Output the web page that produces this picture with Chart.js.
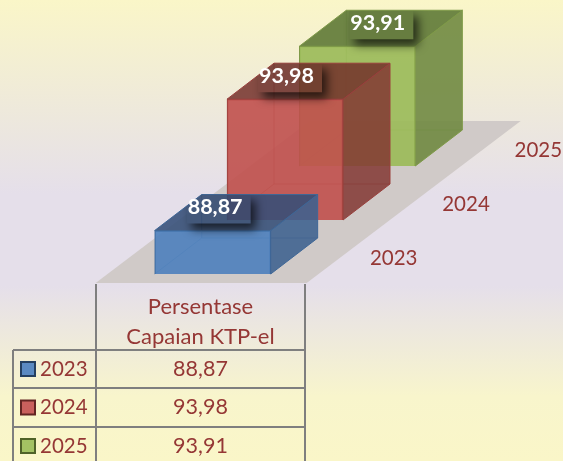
<!DOCTYPE html>
<html><head><meta charset="utf-8">
<style>html,body{margin:0;padding:0;background:#e5dfea}canvas{display:block}</style>
<script src="https://cdn.jsdelivr.net/npm/chart.js@4"></script>
</head><body><canvas id="c" width="563" height="461"></canvas>
<script>
const years = ['2023', '2024', '2025'];
const values = [88.87, 93.98, 93.91];
const seriesName = ['Persentase', 'Capaian KTP-el'];
const axisMin = 86, axisMax = 104.1;
const frontColors = ['rgba(79,129,189,.92)', 'rgba(192,80,77,.9)', 'rgba(155,187,89,.92)'];
const sideColors = ['rgba(60,97,142,.88)', 'rgba(131,55,50,.85)', 'rgba(112,138,65,.9)'];
const topColors = ['rgba(52,78,120,.88)', 'rgba(115,48,42,.85)', 'rgba(98,124,58,.92)'];
const edgeColors = ['#3f6797', '#99403d', '#7f9a48'];
const keyBorders = ['#254061', '#632523', '#4f6228'];
const keyFills = ['#5b8ac2', '#c9605d', '#a3c263'];

const fmt = v => v.toFixed(2).replace('.', ',');
const DEPTH_X = 47, DEPTH_Y = 36, STEP_Y = 54;
const labelBoxShift = [32, 31, 50];
const textColor = '#953735';
const font = (s, b) => (b ? 'bold ' : '') + s + 'px Lato, Carlito, sans-serif';

function poly(ctx, pts) {
  ctx.beginPath();
  pts.forEach((p, i) => i ? ctx.lineTo(p[0], p[1]) : ctx.moveTo(p[0], p[1]));
  ctx.closePath();
}

const scene = {
  id: 'scene',
  beforeDraw(chart) {
    const { ctx, width, height } = chart;
    const g = ctx.createLinearGradient(0, 0, 0, height);
    g.addColorStop(0, '#faf6c8');
    g.addColorStop(0.42, '#e5dfea');
    g.addColorStop(0.62, '#e5dfea');
    g.addColorStop(0.86, '#f8f5cc');
    g.addColorStop(1, '#faf6c8');
    ctx.save();
    ctx.fillStyle = g;
    ctx.fillRect(0, 0, width, height);
    ctx.restore();
  },
  beforeDatasetDraw(chart, args) {
    const { ctx } = chart;
    const bars = chart.getDatasetMeta(args.index).data;
    const baseY = bars[0].base, first = bars[0], hw = first.width / 2;
    // floor
    ctx.save();
    ctx.fillStyle = '#d0cac8';
    const fl = first.x - hw - 59, fr = first.x + hw + 36, fy = baseY + 9;
    const dx = 214, dy = 162;
    poly(ctx, [[fl, fy], [fr, fy], [fr + dx, fy - dy], [fl + dx, fy - dy]]);
    ctx.fill();
    ctx.restore();
    for (let i = bars.length - 1; i >= 0; i--) drawCuboid(chart, bars[i], i);
    // depth axis labels
    ctx.save();
    ctx.font = font(20.5);
    ctx.fillStyle = textColor;
    ctx.textAlign = 'center';
    ctx.textBaseline = 'middle';
    bars.forEach((b, i) => ctx.fillText(chart.data.labels[i], b.x + 181, b.base - STEP_Y * i - 16));
    ctx.restore();
    return false;
  },
  afterDraw(chart) { drawTable(chart); }
};

function drawCuboid(chart, el, i) {
  const { ctx } = chart;
  const shift = -STEP_Y * i;
  const l = el.x - el.width / 2, r = el.x + el.width / 2, t = el.y + shift, b = el.base + shift;
  ctx.save();
  // back hidden edges
  ctx.strokeStyle = edgeColors[i];
  ctx.globalAlpha = .55;
  ctx.lineWidth = 1;
  ctx.beginPath();
  ctx.moveTo(l, b); ctx.lineTo(l + DEPTH_X, b - DEPTH_Y); ctx.lineTo(r + DEPTH_X, b - DEPTH_Y);
  ctx.moveTo(l + DEPTH_X, b - DEPTH_Y); ctx.lineTo(l + DEPTH_X, t - DEPTH_Y);
  ctx.stroke();
  ctx.globalAlpha = 1;
  // side
  poly(ctx, [[r, t], [r + DEPTH_X, t - DEPTH_Y], [r + DEPTH_X, b - DEPTH_Y], [r, b]]);
  ctx.fillStyle = sideColors[i]; ctx.fill();
  ctx.strokeStyle = edgeColors[i]; ctx.stroke();
  // top
  poly(ctx, [[l, t], [l + DEPTH_X, t - DEPTH_Y], [r + DEPTH_X, t - DEPTH_Y], [r, t]]);
  ctx.fillStyle = topColors[i]; ctx.fill(); ctx.stroke();
  // front, through the library's own bar element
  ctx.translate(0, shift);
  el.draw(ctx);
  ctx.translate(0, -shift);

  // value label
  const hull = [[l, b], [l, t], [l + DEPTH_X, t - DEPTH_Y], [r + DEPTH_X, t - DEPTH_Y], [r + DEPTH_X, b - DEPTH_Y], [r, b]];
  const bx = l + labelBoxShift[i], by = t - DEPTH_Y, bw = 64, bh = 29;
  ctx.save();
  poly(ctx, hull); ctx.clip();
  ctx.save();
  ctx.beginPath();
  ctx.rect(0, 0, chart.width, chart.height);
  ctx.rect(bx, by, bw, bh);
  ctx.clip('evenodd');
  ctx.shadowColor = 'rgba(0,0,0,.66)';
  ctx.shadowBlur = 10;
  ctx.shadowOffsetX = 1000 + 5;
  ctx.shadowOffsetY = 6;
  ctx.fillStyle = '#000';
  ctx.fillRect(bx - 1000, by, bw, bh);
  ctx.restore();
  ctx.fillStyle = 'rgba(0,0,0,.06)';
  ctx.fillRect(bx, by, bw, bh);
  ctx.restore();
  ctx.font = font(21.5, true);
  ctx.fillStyle = '#fff';
  ctx.textAlign = 'left';
  ctx.textBaseline = 'middle';
  ctx.fillText(fmt(values[i]), bx + 1, by + 13);
  ctx.restore();
}

function drawTable(chart) {
  const { ctx } = chart;
  const xL = 13, xM = 96, xR = 305;
  const yHead = 284, rows = [350, 388, 427, 465];
  ctx.save();
  ctx.strokeStyle = '#7f7f7f';
  ctx.lineWidth = 2;
  ctx.beginPath();
  ctx.moveTo(xM, yHead); ctx.lineTo(xM, 465);
  ctx.moveTo(xR, yHead); ctx.lineTo(xR, 465);
  ctx.moveTo(xL, rows[0]); ctx.lineTo(xL, 465);
  rows.forEach(y => { ctx.moveTo(xL, y); ctx.lineTo(xR, y); });
  ctx.stroke();
  ctx.font = font(22);
  ctx.fillStyle = textColor;
  ctx.textBaseline = 'middle';
  ctx.textAlign = 'center';
  ctx.fillText(seriesName[0], (xM + xR) / 2, 307);
  ctx.fillText(seriesName[1], (xM + xR) / 2, 337);
  years.forEach((y, i) => {
    const cy = (rows[i] + rows[i + 1]) / 2;
    ctx.fillStyle = keyFills[i];
    ctx.strokeStyle = keyBorders[i];
    ctx.lineWidth = 2;
    ctx.fillRect(21, cy - 7, 14, 14);
    ctx.strokeRect(21, cy - 7, 14, 14);
    ctx.fillStyle = textColor;
    ctx.textAlign = 'left';
    ctx.font = font(20.5);
    ctx.fillText(y, 40, cy);
    ctx.textAlign = 'center';
    ctx.font = font(21.5);
    ctx.fillText(fmt(values[i]), (xM + xR) / 2, cy);
  });
  ctx.restore();
}

new Chart(document.getElementById('c'), {
  type: 'bar',
  data: {
    labels: years,
    datasets: [{
      label: seriesName.join(' '),
      data: values,
      base: axisMin,
      backgroundColor: frontColors,
      borderColor: edgeColors,
      borderWidth: 1,
      barThickness: 116
    }]
  },
  options: {
    responsive: false,
    animation: false,
    layout: { padding: { left: 176.5, right: 169.5, top: 0, bottom: 187 } },
    plugins: { legend: { display: false }, tooltip: { enabled: false } },
    scales: {
      x: { display: false },
      y: { display: false, min: axisMin, max: axisMax }
    }
  },
  plugins: [scene]
});
</script></body></html>
